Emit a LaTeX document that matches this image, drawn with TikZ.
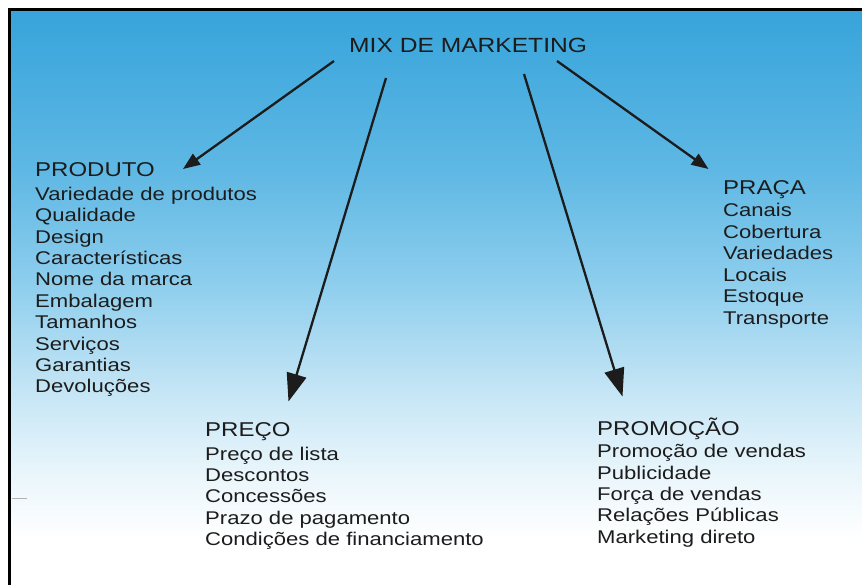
\documentclass[tikz,border=0pt]{standalone}
\usepackage{fontspec}
\setmainfont{Liberation Sans}[FakeStretch=1.2]
\usepackage{tikz}
\usetikzlibrary{arrows.meta}

\definecolor{ink}{RGB}{28,28,28}
\definecolor{skyA}{RGB}{55,164,219}
\definecolor{skyB}{RGB}{95,184,228}
\definecolor{skyC}{RGB}{140,205,237}
\definecolor{skyD}{RGB}{196,229,245}
\definecolor{skyE}{RGB}{232,245,251}
\pgfdeclareverticalshading{skyfade}{100bp}{color(0bp)=(white); color(29bp)=(white);
  color(35bp)=(skyE); color(42bp)=(skyD); color(51.6bp)=(skyC); color(61bp)=(skyB);
  color(75bp)=(skyA); color(100bp)=(skyA)}

\tikzset{
  titletext/.style={anchor=base west, inner sep=0pt, text=ink, font=\fontsize{20.5}{24}\selectfont},
  headtext/.style={anchor=base west, inner sep=0pt, text=ink, font=\fontsize{20}{24}\selectfont},
  itemtext/.style={anchor=base west, inner sep=0pt, text=ink, font=\fontsize{18.4}{22}\selectfont},
  smallarr/.style={line width=2.3pt, draw=ink, -{Triangle[length=17pt,width=13pt]}},
  bigarr/.style={line width=2.3pt, draw=ink, -{Triangle[length=28pt,width=20pt]}},
}

\begin{document}
\begin{tikzpicture}[x=1pt, y=-1pt]
	\useasboundingbox (0,0) rectangle (862,585);
	% background and frame
	\shade[shading=skyfade] (11,11) rectangle (862,585);
	\draw[line width=2.5pt] (9.5,585) -- (9.5,9.5) -- (862,9.5);
	\draw[gray!60, line width=0.8pt] (12,498) -- (27,498);
	% mix
	\node[titletext] (mix) at (349,52.7) {MIX DE MARKETING};
	% produto
	\node[headtext] (produto) at (35,176.7) {PRODUTO};
	\foreach \txt [count=\i from 0] in {Variedade de produtos, Qualidade, Design,
	  Características, Nome da marca, Embalagem, Tamanhos, Serviços, Garantias, Devoluções}
	  \node[itemtext] (produto-\i) at (35,200.3+21.4*\i) {\txt};
	% preco
	\node[headtext] (preco) at (205,436.7) {PREÇO};
	\foreach \txt [count=\i from 0] in {Preço de lista, Descontos, Concessões,
	  Prazo de pagamento, Condições de financiamento}
	  \node[itemtext] (preco-\i) at (205,460.7+21.1*\i) {\txt};
	% promocao
	\node[headtext] (promocao) at (597,435) {PROMOÇÃO};
	\foreach \txt [count=\i from 0] in {Promoção de vendas, Publicidade, Força de vendas,
	  Relações Públicas, Marketing direto}
	  \node[itemtext] (promocao-\i) at (597,457.7+21.4*\i) {\txt};
	% praca
	\node[headtext] (praca) at (723,194.3) {PRAÇA};
	\foreach \txt [count=\i from 0] in {Canais, Cobertura, Variedades, Locais, Estoque, Transporte}
	  \node[itemtext] (praca-\i) at (723,216.7+21.5*\i) {\txt};
	% arrows
	\coordinate (mixProduto) at (334,61);
	\coordinate (mixPreco) at (386,78);
	\coordinate (mixPromocao) at (524,74);
	\coordinate (mixPraca) at (557,61);
	\coordinate (tipProduto) at (183,169);
	\coordinate (tipPreco) at (288.5,401.5);
	\coordinate (tipPromocao) at (622.5,396.5);
	\coordinate (tipPraca) at (708.5,169);
	\draw[smallarr] (mixProduto) -- (tipProduto);
	\draw[bigarr] (mixPreco) -- (tipPreco);
	\draw[bigarr] (mixPromocao) -- (tipPromocao);
	\draw[smallarr] (mixPraca) -- (tipPraca);
\end{tikzpicture}
\end{document}
